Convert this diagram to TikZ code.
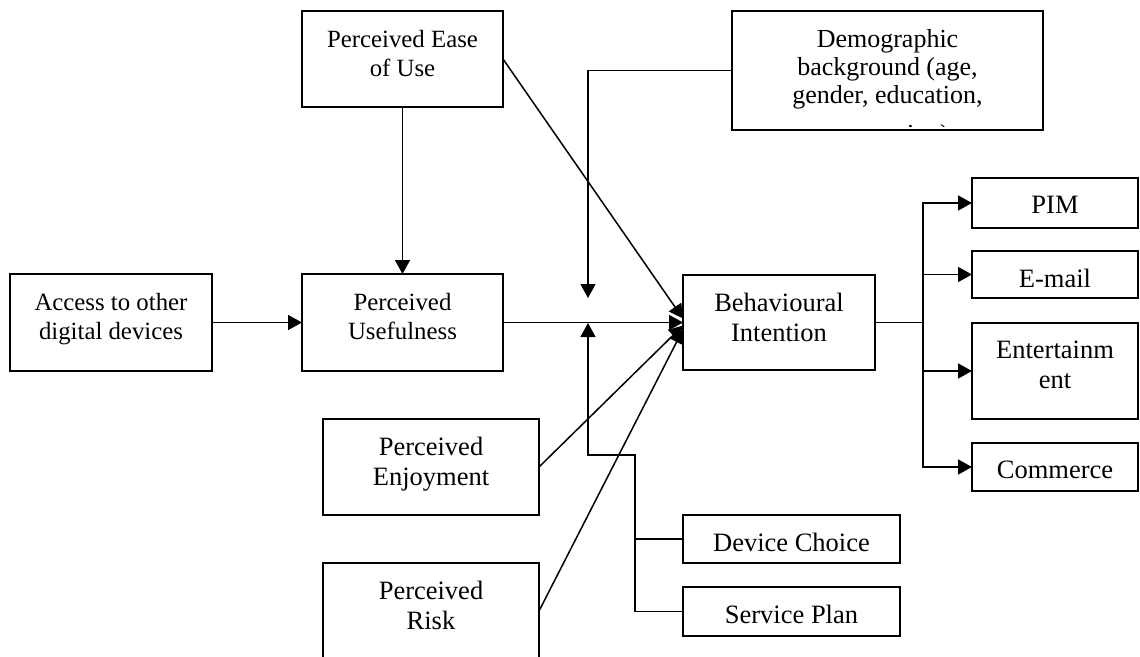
\documentclass[tikz,border=0pt]{standalone}
\usepackage{fontspec}
\setmainfont{Liberation Serif}
\usetikzlibrary{arrows.meta,calc}
\begin{document}
\begin{tikzpicture}[x=1pt,y=-1pt,line width=1.5pt,
  box/.style={draw,rectangle,inner sep=0pt,outer sep=0pt},
  txtS/.style={font=\fontsize{24.8}{28.5}\selectfont,align=center,inner sep=0pt,anchor=north},
  txtL/.style={font=\fontsize{26.5}{30}\selectfont,align=center,inner sep=0pt,anchor=north},
  arr/.style={-{Triangle[length=14pt,width=15pt]}},
]
\clip (0,0) rectangle (1140,656);
% boxes
\node[box,minimum width=201,minimum height=96] (ease) at (402.5,59) {};
\node[box,minimum width=311,minimum height=119] (demo) at (887.5,70.5) {};
\node[box,minimum width=202,minimum height=97] (access) at (111,322.5) {};
\node[box,minimum width=201,minimum height=97] (useful) at (402.5,322.5) {};
\node[box,minimum width=192,minimum height=95] (bi) at (779,322.5) {};
\node[box,minimum width=216,minimum height=96] (enjoy) at (431,467) {};
\node[box,minimum width=216,minimum height=96] (risk) at (431,611) {};
\node[box,minimum width=166,minimum height=50] (pim) at (1055,203) {};
\node[box,minimum width=166,minimum height=47] (email) at (1055,274.5) {};
\node[box,minimum width=166,minimum height=96] (ent) at (1055,371) {};
\node[box,minimum width=166,minimum height=48] (comm) at (1055,467) {};
\node[box,minimum width=217,minimum height=48] (dev) at (791.5,539) {};
\node[box,minimum width=217,minimum height=49] (serv) at (791.5,611.5) {};
% texts
\node[txtS] (tease) at ($(ease.north)+(0,19)$) {Perceived Ease\\of Use};
\node[txtS] (taccess) at ($(access.north)+(0,19)$) {Access to other\\digital devices};
\node[txtS] (tuseful) at ($(useful.north)+(0,19)$) {Perceived\\Usefulness};
\node[txtL] (tbi) at ($(bi.north)+(0,17.5)$) {Behavioural\\Intention};
\node[txtL] (tenjoy) at ($(enjoy.north)+(0,17.5)$) {Perceived\\Enjoyment};
\node[txtL] (trisk) at ($(risk.north)+(0,17.5)$) {Perceived\\Risk};
\node[txtL] (tpim) at ($(pim.north)+(0,17.5)$) {PIM};
\node[txtL] (temail) at ($(email.north)+(0,17.5)$) {E-mail};
\node[txtL] (tent) at ($(ent.north)+(0,17.5)$) {Entertainm\\ent};
\node[txtL] (tcomm) at ($(comm.north)+(0,17.5)$) {Commerce};
\node[txtL] (tdev) at ($(dev.north)+(0,17.5)$) {Device Choice};
\node[txtL] (tserv) at ($(serv.north)+(0,17.5)$) {Service Plan};
\begin{scope}
\clip (733,12) rectangle (1042,126);
\node[txtL,font=\fontsize{26}{27.8}\selectfont] (tdemo) at ($(demo.north)+(0,18)$) {Demographic\\background (age,\\gender, education,\\[11pt]occupation)};
\end{scope}
% connectors
\draw[arr] (ease.south) -- (useful.north);
\draw[arr] (access.east) -- (useful.west);
\draw[arr] (useful.east) -- (bi.west);
\draw[arr] (ease.east) -- ($(bi.west)+(0,-4)$);
\draw[arr] (enjoy.east) -- ($(bi.west)+(0,3)$);
\draw[arr] (risk.east) -- ($(bi.west)+(0,7)$);
\coordinate (demtip) at (588,298);
\draw[arr] (demo.west) -| (demtip);
\coordinate (uptip) at (588,323);
\coordinate (j1) at (588,455);
\coordinate (j2) at (635,455);
\draw[arr] (serv.west) -| (j2) -- (j1) -- (uptip);
\draw (dev.west) -- (dev.west -| j2);
\coordinate (split) at (923,322.5);
\draw (bi.east) -- (split);
\draw[arr] (split) |- (pim.west);
\draw[arr] (split) |- (email.west);
\draw[arr] (split) |- (ent.west);
\draw[arr] (split) |- (comm.west);
\end{tikzpicture}
\end{document}
